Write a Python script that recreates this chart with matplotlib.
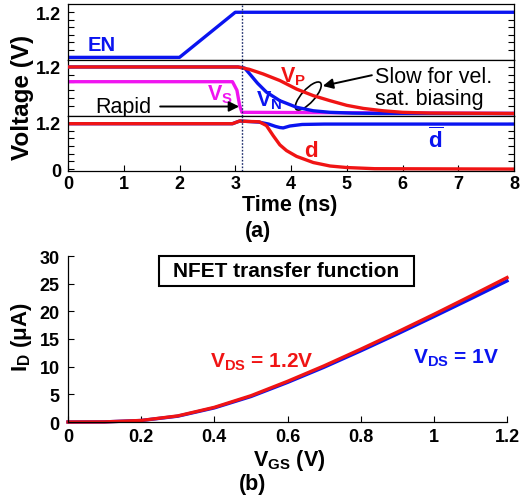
import matplotlib
matplotlib.use("Agg")
import matplotlib.pyplot as plt
from matplotlib.patches import Ellipse, Rectangle
from matplotlib.transforms import ScaledTranslation

plt.rcParams["font.family"] = ["Liberation Sans", "DejaVu Sans"]
plt.rcParams["mathtext.fontset"] = "custom"
plt.rcParams["mathtext.rm"] = "Liberation Sans"
plt.rcParams["mathtext.bf"] = "Liberation Sans:bold"

BLUE = "#0a14f0"
RED = "#f01414"
MAGENTA = "#f014f0"

# panel (a): transient waveforms, time in ns, voltages in V
en_t = [0, 2.0, 3.0, 8]
en_v = [0, 0, 1.2, 1.2]

vs_t = [0, 2.95, 3.03, 3.08, 3.12, 8]
vs_v = [0.82, 0.82, 0.6, 0.2, 0.03, 0.0]

vp_t = [0, 3.05, 3.25, 3.5, 3.8, 4.1, 4.4, 4.7, 5.0, 5.3, 5.65, 6.0, 6.5, 8]
vp_v = [1.2, 1.2, 1.14, 1.02, 0.85, 0.63, 0.46, 0.33, 0.21, 0.13, 0.07, 0.03, 0.01, 0.0]

vn_t = [0, 3.05, 3.17, 3.26, 3.4, 3.56, 3.8, 4.1, 4.4, 4.7, 5.1, 5.6, 8]
vn_v = [1.2, 1.2, 1.17, 1.02, 0.78, 0.55, 0.33, 0.16, 0.07, 0.03, 0.01, 0.0, 0.0]

d_t = [0, 2.95, 3.08, 3.2, 3.43, 3.56, 3.68, 3.8, 3.92, 4.1, 4.4, 4.7, 5.0, 5.5, 8]
d_v = [1.18, 1.18, 1.25, 1.24, 1.23, 1.13, 0.87, 0.63, 0.48, 0.33, 0.17, 0.08, 0.04, 0.01, 0.0]

db_t = [0, 2.95, 3.08, 3.2, 3.43, 3.6, 3.72, 3.8, 3.86, 3.98, 4.2, 4.6, 8]
db_v = [1.18, 1.18, 1.25, 1.24, 1.22, 1.17, 1.11, 1.08, 1.07, 1.12, 1.16, 1.17, 1.17]

t_switch = 3.13

# panel (b): NFET transfer function, V_GS in V, I_D in uA
vgs = [0, 0.1, 0.2, 0.3, 0.4, 0.5, 0.6, 0.7, 0.8, 0.9, 1.0, 1.1, 1.2]
id_12 = [0, 0.02, 0.28, 1.1, 2.65, 4.75, 7.35, 10.15, 13.15, 16.25, 19.45, 22.75, 26.1]
id_10 = [0, 0.02, 0.27, 1.05, 2.55, 4.6, 7.15, 9.9, 12.85, 15.9, 19.05, 22.25, 25.5]

fig = plt.figure(figsize=(5.28, 5.02), dpi=100)
W, H = 528, 502


def box(x0, y0, x1, y1):
    return [x0 / W, 1 - y1 / H, (x1 - x0) / W, (y1 - y0) / H]


ax1 = fig.add_axes(box(68, 5, 514, 61))
ax2 = fig.add_axes(box(68, 61, 514, 117), sharex=ax1)
ax3 = fig.add_axes(box(68, 117, 514, 172), sharex=ax1)
axb = fig.add_axes(box(68, 257, 507, 423))

lw = 2.4
ax1.plot(en_t, en_v, color=BLUE, lw=lw)
ax2.plot(vs_t, vs_v, color=MAGENTA, lw=lw, zorder=2)
ax2.plot(vn_t, vn_v, color=BLUE, lw=lw, zorder=3)
ax2.plot(vp_t, vp_v, color=RED, lw=lw, zorder=4)
ax3.plot(db_t, db_v, color=BLUE, lw=lw)
ax3.plot(d_t, d_v, color=RED, lw=lw)

ax1.set_ylim(-0.07, 1.42)
ax2.set_ylim(-0.065, 1.38)
ax3.set_ylim(-0.05, 1.38)
ax1.set_xlim(0, 8)

for ax in (ax1, ax2, ax3):
    ax.axvline(t_switch, color="#1a2a6a", lw=1.0, ls=(0, (1.2, 1.2)), zorder=5)
    ax.tick_params(axis="y", direction="in", length=4, width=0.8,
                   left=True, right=True, labelsize=13, pad=5)
    ax.tick_params(axis="x", direction="in", length=4, width=0.8, top=False)
    for s in ax.spines.values():
        s.set_linewidth(0.9)

for ax in (ax1, ax2):
    ax.set_yticks([0.2, 0.4, 0.6, 0.8, 1.0, 1.2])
    ax.set_yticklabels(["", "", "", "", "", "1.2"], fontweight="bold")
    ax.tick_params(axis="x", bottom=False, labelbottom=False)
ax3.set_yticks([0, 0.2, 0.4, 0.6, 0.8, 1.0, 1.2])
ax3.set_yticklabels(["0", "", "", "", "", "", "1.2"], fontweight="bold")
ax3.set_xticks(range(9))
ax3.set_xticklabels([str(i) for i in range(9)], fontweight="bold", fontsize=13)
ax3.tick_params(axis="x", pad=3)

fig.text(290 / W, 1 - 206 / H, "Time (ns)", fontsize=15.5, fontweight="bold",
         ha="center", va="center")
fig.text(258 / W, 1 - 232 / H, "(a)", fontsize=15.5, fontweight="bold",
         ha="center", va="center")
fig.text(23 / W, 1 - 97 / H, "Voltage (V)", fontsize=17.5, fontweight="bold",
         rotation=90, ha="center", va="center")

# waveform labels
ax1.text(0.6, 0.35, "EN", color=BLUE, fontsize=14.5, fontweight="bold",
         ha="center", va="center")
ax2.text(2.72, 0.5, r"$\mathbf{V_{S}}$", color=MAGENTA, fontsize=15.5,
         ha="center", va="center")
ax2.text(3.6, 0.36, r"$\mathbf{V_{N}}$", color=BLUE, fontsize=15.5,
         ha="center", va="center")
ax2.text(4.04, 0.97, r"$\mathbf{V_{P}}$", color=RED, fontsize=15.5,
         ha="center", va="center")
ax3.text(4.36, 0.47, "d", color=RED, fontsize=16, fontweight="bold",
         ha="center", va="center")
ax3.text(6.6, 0.76, r"$\mathbf{\overline{d}}$", color=BLUE, fontsize=16,
         ha="center", va="center")

ax2.annotate("Rapid", xy=(3.07, 0.18), xytext=(1.0, 0.18),
             fontsize=15.5, ha="center", va="center",
             arrowprops=dict(arrowstyle="-|>", color="black", lw=1.4,
                             mutation_scale=15, shrinkA=4, shrinkB=0,
                             relpos=(1, 0.5)))
ax2.annotate("Slow for vel.\nsat. biasing", xy=(4.57, 0.71), xytext=(5.5, 0.68),
             fontsize=15.5, ha="left", va="center", linespacing=1.05,
             arrowprops=dict(arrowstyle="-|>", color="black", lw=1.4,
                             mutation_scale=15, shrinkA=0, shrinkB=0,
                             relpos=(-0.02, 0.78)))
ell = Ellipse((0, 0), width=0.36, height=0.13, angle=48, fill=False,
              edgecolor="black", lw=1.2,
              transform=fig.dpi_scale_trans + ScaledTranslation(4.31, 0.45, ax2.transData))
ax2.add_artist(ell)

# panel (b)
axb.plot(vgs, id_10, color=BLUE, lw=lw, clip_on=False)
axb.plot(vgs, id_12, color=RED, lw=lw, clip_on=False)
axb.set_xlim(0, 1.2)
axb.set_ylim(0, 30)
axb.spines["top"].set_visible(False)
axb.spines["right"].set_visible(False)
for s in axb.spines.values():
    s.set_linewidth(0.9)
axb.set_xticks([0, 0.2, 0.4, 0.6, 0.8, 1.0, 1.2])
axb.set_xticklabels(["0", "0.2", "0.4", "0.6", "0.8", "1", "1.2"],
                    fontweight="bold", fontsize=13)
axb.set_yticks([0, 5, 10, 15, 20, 25, 30])
axb.set_yticklabels(["0", "5", "10", "15", "20", "25", "30"],
                    fontweight="bold", fontsize=13)
axb.tick_params(direction="in", length=4, width=0.8)
axb.tick_params(axis="y", pad=6)
axb.tick_params(axis="x", pad=4)
fig.text(289 / W, 1 - 461 / H, r"$\mathbf{V_{GS}}$ (V)", fontsize=15.5,
         fontweight="bold", ha="center", va="center")
fig.text(22 / W, 1 - 337 / H, r"$\mathbf{I_{D}}$ ($\mathbf{\mu}$A)", fontsize=16,
         fontweight="bold", rotation=90, ha="center", va="center")
axb.add_patch(Rectangle((0.248, 24.6), 0.698, 5.4, fill=False, ec="black",
                        lw=1.5, clip_on=False))
axb.text(0.597, 27.3, "NFET transfer function", fontsize=15, fontweight="bold",
         ha="center", va="center")
axb.text(0.53, 11.0, r"$\mathbf{V_{DS}}$ = 1.2V", color=RED, fontsize=15,
         fontweight="bold", ha="center", va="center")
axb.text(1.06, 11.7, r"$\mathbf{V_{DS}}$ = 1V", color=BLUE, fontsize=15,
         fontweight="bold", ha="center", va="center")
fig.text(253 / W, 1 - 485 / H, "(b)", fontsize=15.5, fontweight="bold",
         ha="center", va="center")

fig.savefig("out.png", dpi=100)
